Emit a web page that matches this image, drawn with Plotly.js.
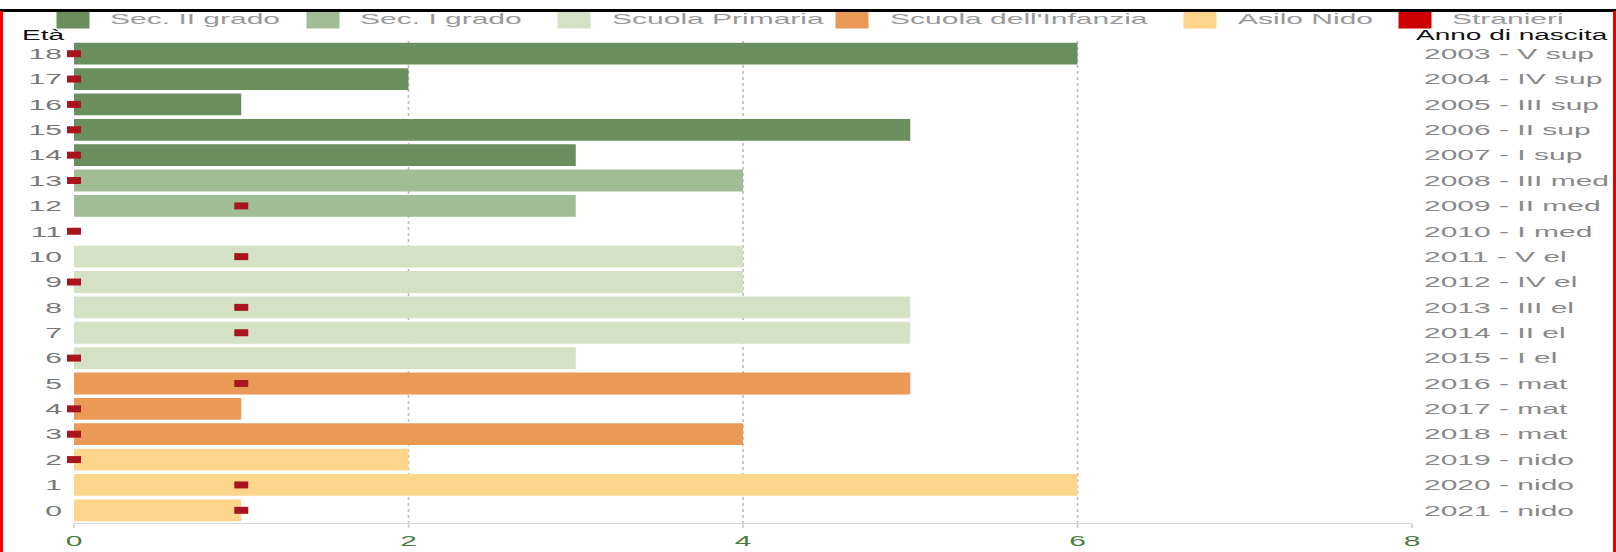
<!DOCTYPE html>
<html>
<head>
<meta charset="utf-8">
<script src="https://cdn.plot.ly/plotly-3.0.1.min.js"></script>
<style>
  html, body { margin:0; padding:0; background:#fff; }
  #frame { position:relative; width:1616px; height:552px; overflow:hidden; background:#fff; }
  #chart { position:absolute; left:0; top:0; width:808px; height:552px; transform:scaleX(2); transform-origin:0 0; }
  .bar-top { position:absolute; left:0; top:9px; width:1616px; height:3px; background:#000; }
  .bar-left { position:absolute; left:0; top:11px; width:3px; height:541px; background:#f00; }
  .bar-right { position:absolute; left:1613px; top:11px; width:3px; height:541px; background:#e00; }
</style>
</head>
<body>
<div id="frame">
  <div id="chart"></div>
  <div class="bar-top"></div>
  <div class="bar-left"></div>
  <div class="bar-right"></div>
</div>
<script>
// ---- data ----
const ages = [0,1,2,3,4,5,6,7,8,9,10,11,12,13,14,15,16,17,18];
const pupils = [1,6,2,4,1,5,3,5,5,4,4,0,3,4,3,5,1,2,6];
const stranieri = [1,1,0,0,0,1,0,1,1,0,1,0,1,0,0,0,0,0,0];
const birthLabels = ['2021 - nido','2020 - nido','2019 - nido','2018 - mat','2017 - mat','2016 - mat',
  '2015 - I el','2014 - II el','2013 - III el','2012 - IV el','2011 - V el','2010 - I med',
  '2009 - II med','2008 - III med','2007 - I sup','2006 - II sup','2005 - III sup','2004 - IV sup','2003 - V sup'];
const groupNames = ['Sec. II grado','Sec. I grado','Scuola Primaria',"Scuola dell'Infanzia",'Asilo Nido'];
const groupAgeFrom = [14,11,6,3,0];
const groupAgeTo = [18,13,10,5,2];
const xTicks = [0,2,4,6,8];
const legendNames = ['Sec. II grado','Sec. I grado','Scuola Primaria',"Scuola dell'Infanzia",'Asilo Nido','Stranieri'];

// ---- styles ----
const groupColors = ['#6b8e5e','#a1bd95','#d4e1c5','#ea9a56','#fed68b'];
const legendColors = groupColors.concat(['#cc0000']);
const markerColor = '#a8151f';
const FONT = 'Liberation Sans, Arial, Helvetica, sans-serif';

const W = 808, H = 552;
const M = {l:36.75, r:102.25, t:40.5, b:28.5};
const pw = W - M.l - M.r, ph = H - M.t - M.b;
const fx = px => (px - M.l) / pw;
const fy = py => (H - M.b - py) / ph;

const traces = [];
groupNames.forEach((name, g) => {
  const ys = [], xs = [];
  ages.forEach((a, i) => {
    if (a >= groupAgeFrom[g] && a <= groupAgeTo[g]) { ys.push(a); xs.push(pupils[i]); }
  });
  traces.push({
    type:'bar', orientation:'h', name:name, x:xs, y:ys, width:0.86,
    marker:{color:groupColors[g], line:{width:0}},
    showlegend:false, hoverinfo:'skip'
  });
});
traces.push({
  type:'scatter', mode:'markers', name:'Stranieri', x:stranieri, y:ages,
  marker:{symbol:'square', size:7, color:markerColor, line:{width:0}},
  cliponaxis:false, showlegend:false, hoverinfo:'skip'
});
traces.push({
  type:'scatter', mode:'markers', x:[0], y:[0], yaxis:'y2',
  marker:{opacity:0}, showlegend:false, hoverinfo:'skip'
});

// manual legend (swatch left edges in px)
const swX = [28, 153, 278.5, 417.5, 591.5, 699];
const shapes = [], annotations = [];
legendNames.forEach((n, i) => {
  shapes.push({type:'rect', xref:'paper', yref:'paper',
    x0:fx(swX[i]), x1:fx(swX[i]+16.5), y0:fy(28), y1:fy(11.5),
    fillcolor:legendColors[i], line:{width:0}});
  annotations.push({xref:'paper', yref:'paper', x:fx(swX[i]+25), y:fy(18),
    xanchor:'left', yanchor:'middle', text:n, showarrow:false,
    font:{family:FONT, size:15, color:'#999'}});
});
annotations.push({xref:'paper', yref:'paper', x:fx(9), y:fy(34), xanchor:'left', yanchor:'middle',
  text:'Età', showarrow:false, font:{family:FONT, size:14, color:'#111'}});
annotations.push({xref:'paper', yref:'paper', x:fx(706), y:fy(34), xanchor:'left', yanchor:'middle',
  text:'Anno di nascita', showarrow:false, font:{family:FONT, size:14, color:'#111'}});

const layout = {
  width:W, height:H, margin:M,
  paper_bgcolor:'rgba(0,0,0,0)', plot_bgcolor:'rgba(0,0,0,0)',
  barmode:'overlay', showlegend:false,
  font:{family:FONT},
  xaxis:{range:[0,8], tickvals:xTicks, showgrid:true, gridcolor:'#bbb', griddash:'dot', gridwidth:0.8,
    zeroline:false, showline:true, linecolor:'#d6d6d6', linewidth:1,
    ticks:'outside', ticklen:4, tickcolor:'#ccc', tickwidth:0.8,
    tickfont:{family:FONT, size:15, color:'#4a7c3f'}, fixedrange:true},
  yaxis:{range:[-0.5,18.5], tickvals:ages, ticktext:ages.map(String), showgrid:false, zeroline:false,
    showline:false, ticks:'', ticklabelstandoff:5, tickfont:{family:FONT, size:15, color:'#777'}, fixedrange:true},
  yaxis2:{range:[-0.5,18.5], overlaying:'y', side:'right', anchor:'x', tickvals:ages, ticktext:birthLabels,
    showgrid:false, zeroline:false, showline:false, ticks:'', ticklabelstandoff:5,
    tickfont:{family:FONT, size:15, color:'#888'}, fixedrange:true},
  shapes:shapes, annotations:annotations
};

Plotly.newPlot('chart', traces, layout, {displayModeBar:false, staticPlot:true});
</script>
</body>
</html>
